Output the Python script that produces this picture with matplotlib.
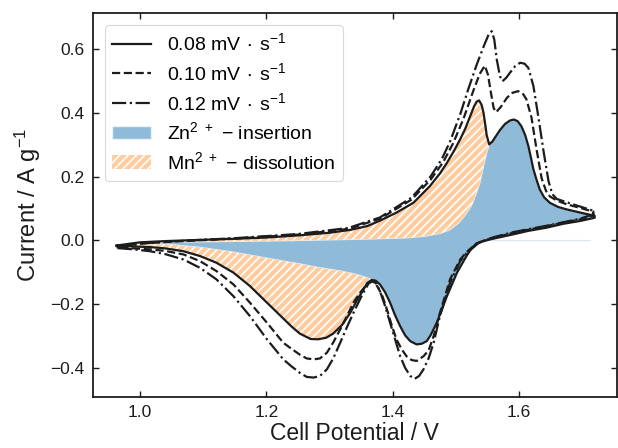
import numpy as np
import matplotlib
matplotlib.use("Agg")
import matplotlib.pyplot as plt

# ---------------- data ----------------
# 0.08 mV/s, anodic (upper) branch, left -> right
v08_up = [0.963, 1.0, 1.042, 1.1, 1.148, 1.2, 1.253, 1.3, 1.333, 1.36, 1.38, 1.406, 1.433,
          1.459, 1.475, 1.486, 1.497, 1.507, 1.515, 1.523, 1.529, 1.533, 1.537, 1.541, 1.544,
          1.547, 1.549, 1.553, 1.558, 1.562, 1.570, 1.578, 1.586, 1.592, 1.598, 1.604, 1.610,
          1.615, 1.619, 1.623, 1.628, 1.633, 1.640, 1.649, 1.662, 1.676, 1.700, 1.720]
i08_up = [-0.016, -0.006, -0.002, 0.002, 0.005, 0.009, 0.016, 0.024, 0.033, 0.045, 0.062, 0.087,
          0.118, 0.170, 0.210, 0.243, 0.280, 0.317, 0.350, 0.390, 0.420, 0.435, 0.439, 0.425,
          0.400, 0.360, 0.330, 0.301, 0.310, 0.322, 0.346, 0.365, 0.376, 0.379, 0.374, 0.358,
          0.330, 0.296, 0.260, 0.223, 0.190, 0.160, 0.135, 0.118, 0.105, 0.097, 0.086, 0.077]
# 0.08 mV/s, cathodic (lower) branch, right -> left
v08_dn = [1.720, 1.697, 1.670, 1.644, 1.615, 1.591, 1.570, 1.554, 1.545, 1.533, 1.525, 1.517,
          1.502, 1.486, 1.470, 1.460, 1.454, 1.446, 1.438, 1.428, 1.420, 1.412, 1.404, 1.396,
          1.388, 1.380, 1.373, 1.367, 1.360, 1.354, 1.343, 1.333, 1.320, 1.306, 1.295, 1.282,
          1.270, 1.253, 1.240, 1.227, 1.201, 1.174, 1.148, 1.121, 1.095, 1.069, 1.040, 1.016,
          0.990, 0.963]
i08_dn = [0.071, 0.061, 0.052, 0.040, 0.030, 0.019, 0.010, 0.003, -0.002, -0.009, -0.025, -0.049,
          -0.101, -0.175, -0.258, -0.298, -0.316, -0.324, -0.326, -0.316, -0.298, -0.269, -0.235,
          -0.195, -0.162, -0.138, -0.126, -0.124, -0.133, -0.154, -0.190, -0.227, -0.265, -0.292,
          -0.305, -0.310, -0.309, -0.292, -0.270, -0.245, -0.195, -0.143, -0.101, -0.070, -0.049,
          -0.034, -0.025, -0.021, -0.019, -0.017]

# 0.10 mV/s
v10_up = [0.963, 1.0, 1.05, 1.15, 1.25, 1.33, 1.38, 1.43, 1.46, 1.48, 1.496, 1.512, 1.528,
          1.538, 1.546, 1.551, 1.556, 1.560, 1.564, 1.572, 1.581, 1.590, 1.599, 1.607, 1.612,
          1.620, 1.628, 1.636, 1.643, 1.649, 1.660, 1.676, 1.695, 1.718]
i10_up = [-0.020, -0.010, -0.004, 0.006, 0.018, 0.036, 0.068, 0.128, 0.190, 0.245, 0.305, 0.380,
          0.470, 0.522, 0.548, 0.520, 0.460, 0.415, 0.402, 0.420, 0.447, 0.463, 0.468, 0.458,
          0.442, 0.385, 0.285, 0.195, 0.155, 0.138, 0.125, 0.113, 0.103, 0.090]
v10_dn = [1.718, 1.697, 1.644, 1.591, 1.560, 1.545, 1.535, 1.528, 1.518, 1.507, 1.491, 1.475,
          1.465, 1.457, 1.449, 1.438, 1.430, 1.422, 1.414, 1.406, 1.398, 1.391, 1.384, 1.377,
          1.371, 1.366, 1.359, 1.348, 1.338, 1.327, 1.317, 1.306, 1.296, 1.285, 1.275, 1.264,
          1.253, 1.240, 1.227, 1.201, 1.174, 1.148, 1.121, 1.095, 1.069, 1.040, 1.016, 0.990, 0.963]
i10_dn = [0.078, 0.066, 0.045, 0.024, 0.008, 0.000, -0.008, -0.018, -0.035, -0.060, -0.122, -0.227,
          -0.300, -0.345, -0.363, -0.378, -0.375, -0.363, -0.340, -0.310, -0.262, -0.216, -0.175,
          -0.148, -0.130, -0.128, -0.138, -0.165, -0.195, -0.240, -0.279, -0.320, -0.352, -0.370,
          -0.373, -0.370, -0.358, -0.340, -0.321, -0.258, -0.195, -0.138, -0.096, -0.065, -0.044,
          -0.033, -0.028, -0.025, -0.022]

# 0.12 mV/s
v12_up = [0.963, 1.0, 1.05, 1.15, 1.25, 1.33, 1.38, 1.43, 1.46, 1.478, 1.491, 1.507, 1.520,
          1.533, 1.545, 1.552, 1.557, 1.561, 1.565, 1.570, 1.574, 1.580, 1.586, 1.594, 1.602,
          1.609, 1.615, 1.623, 1.631, 1.639, 1.647, 1.653, 1.660, 1.686, 1.718]
i12_up = [-0.022, -0.010, -0.003, 0.007, 0.020, 0.039, 0.072, 0.134, 0.200, 0.255, 0.310, 0.395,
          0.475, 0.550, 0.612, 0.645, 0.656, 0.630, 0.567, 0.515, 0.499, 0.510, 0.526, 0.546,
          0.557, 0.554, 0.541, 0.484, 0.385, 0.280, 0.185, 0.145, 0.130, 0.113, 0.093]
v12_dn = [1.718, 1.697, 1.644, 1.591, 1.560, 1.545, 1.535, 1.528, 1.518, 1.507, 1.491, 1.475,
          1.465, 1.457, 1.449, 1.442, 1.435, 1.428, 1.420, 1.412, 1.404, 1.396, 1.388, 1.380,
          1.374, 1.368, 1.362, 1.352, 1.338, 1.327, 1.317, 1.306, 1.296, 1.285, 1.275, 1.264,
          1.253, 1.240, 1.227, 1.201, 1.174, 1.148, 1.121, 1.095, 1.069, 1.040, 1.016, 0.990, 0.963]
i12_dn = [0.082, 0.068, 0.046, 0.026, 0.010, 0.000, -0.010, -0.022, -0.038, -0.065, -0.133, -0.237,
          -0.321, -0.370, -0.404, -0.425, -0.434, -0.425, -0.400, -0.363, -0.310, -0.258, -0.205,
          -0.159, -0.135, -0.128, -0.135, -0.170, -0.227, -0.275, -0.321, -0.370, -0.404, -0.425,
          -0.430, -0.428, -0.415, -0.395, -0.373, -0.310, -0.237, -0.175, -0.122, -0.086, -0.060,
          -0.043, -0.034, -0.028, -0.024]

# inner boundary separating Zn2+ insertion from Mn2+ dissolution
v_inner_up = [0.963, 1.0, 1.05, 1.15, 1.25, 1.35, 1.42, 1.45, 1.475, 1.49, 1.505, 1.515, 1.525,
              1.532, 1.538, 1.544, 1.549, 1.553]
i_inner_up = [-0.016, -0.009, -0.005, -0.003, 0.000, 0.004, 0.008, 0.013, 0.022, 0.033, 0.055,
              0.080, 0.110, 0.145, 0.180, 0.235, 0.275, 0.301]
v_inner_dn = [1.367, 1.359, 1.343, 1.317, 1.285, 1.253, 1.201, 1.148, 1.095, 1.042, 1.0, 0.963]
i_inner_dn = [-0.124, -0.117, -0.107, -0.096, -0.086, -0.074, -0.056, -0.037, -0.022, -0.012,
              -0.013, -0.016]
v_dip = 1.553        # anodic boundary point where insertion takes over
v_cross = 1.367      # cathodic boundary point
baseline_v = [1.502, 1.713]
baseline_i = [0.0, 0.0]

labels = [r"0.08 mV$\,\cdot\,$s$^{-1}$", r"0.10 mV$\,\cdot\,$s$^{-1}$", r"0.12 mV$\,\cdot\,$s$^{-1}$"]
fill_labels = [r"Zn$^{2\ +}$ $-$ insertion", r"Mn$^{2\ +}$ $-$ dissolution"]

# ---------------- plot ----------------
plt.rcParams["font.family"] = ["Liberation Sans", "DejaVu Sans"]
plt.rcParams["mathtext.fontset"] = "custom"
plt.rcParams["mathtext.rm"] = "Liberation Sans"
plt.rcParams["mathtext.default"] = "regular"
plt.rcParams["hatch.linewidth"] = 1.2

fig = plt.figure(figsize=(6.18, 4.48), dpi=100)
ax = fig.add_axes([0.1505, 0.1138, 0.8475, 0.8572])

blue = (143/255, 187/255, 217/255)
orange = (255/255, 204/255, 159/255)
dark = "#1c1c1c"

vu, iu = np.array(v08_up), np.array(i08_up)
vd, idn = np.array(v08_dn), np.array(i08_dn)
viu, iiu = np.array(v_inner_up), np.array(i_inner_up)
vid, iid = np.array(v_inner_dn), np.array(i_inner_dn)

m_up_r = vu >= v_dip
m_dn_r = vd >= v_cross
blue_v = np.concatenate([viu, vu[m_up_r], vd[m_dn_r], vid])
blue_i = np.concatenate([iiu, iu[m_up_r], idn[m_dn_r], iid])
ax.fill(blue_v, blue_i, facecolor=blue, edgecolor="#eaf2f8", lw=1.0, zorder=1,
        label=fill_labels[0])

m_up_l = vu <= v_dip
or_v1 = np.concatenate([vu[m_up_l], viu[::-1]])
or_i1 = np.concatenate([iu[m_up_l], iiu[::-1]])
ax.fill(or_v1, or_i1, facecolor=orange, edgecolor="white", hatch="////", lw=0, zorder=1,
        label=fill_labels[1])
m_dn_l = vd <= v_cross
or_v2 = np.concatenate([vd[m_dn_l], vid[::-1]])
or_i2 = np.concatenate([idn[m_dn_l], iid[::-1]])
ax.fill(or_v2, or_i2, facecolor=orange, edgecolor="white", hatch="////", lw=0, zorder=1)

ax.plot(baseline_v, baseline_i, color="#d6e6f2", lw=0.8, zorder=0.5)

for vup, iup, vdn, idn_, ls, lab in [(v08_up, i08_up, v08_dn, i08_dn, "-", labels[0]),
                                     (v10_up, i10_up, v10_dn, i10_dn, "--", labels[1]),
                                     (v12_up, i12_up, v12_dn, i12_dn, "-.", labels[2])]:
    ax.plot(list(vup) + list(vdn), list(iup) + list(idn_), ls=ls, color=dark, lw=1.6,
            zorder=3, label=lab)

ax.set_xlim(0.9256, 1.755)
ax.set_ylim(-0.491, 0.713)
ax.set_xticks([1.0, 1.2, 1.4, 1.6])
ax.set_yticks([-0.4, -0.2, 0.0, 0.2, 0.4, 0.6])
ax.tick_params(direction="in", top=True, right=True, length=4, width=1.0, labelsize=12.5,
               colors=dark, pad=6)
for s in ax.spines.values():
    s.set_linewidth(1.3)
    s.set_color(dark)
ax.set_xlabel("Cell Potential / V", fontsize=16.5, color=dark, labelpad=1)
ax.set_ylabel(r"Current / A g$^{-1}$", fontsize=17, color=dark, labelpad=5)

h, l = ax.get_legend_handles_labels()
order = [l.index(x) for x in labels + fill_labels]
leg = ax.legend([h[k] for k in order], [l[k] for k in order], loc="upper left",
                fontsize=14, frameon=True, fancybox=True, edgecolor="#d0d0d0",
                borderaxespad=0.6, handlelength=2.0, labelspacing=0.4)
leg.get_frame().set_linewidth(0.8)

fig.savefig("out.png", dpi=100)
